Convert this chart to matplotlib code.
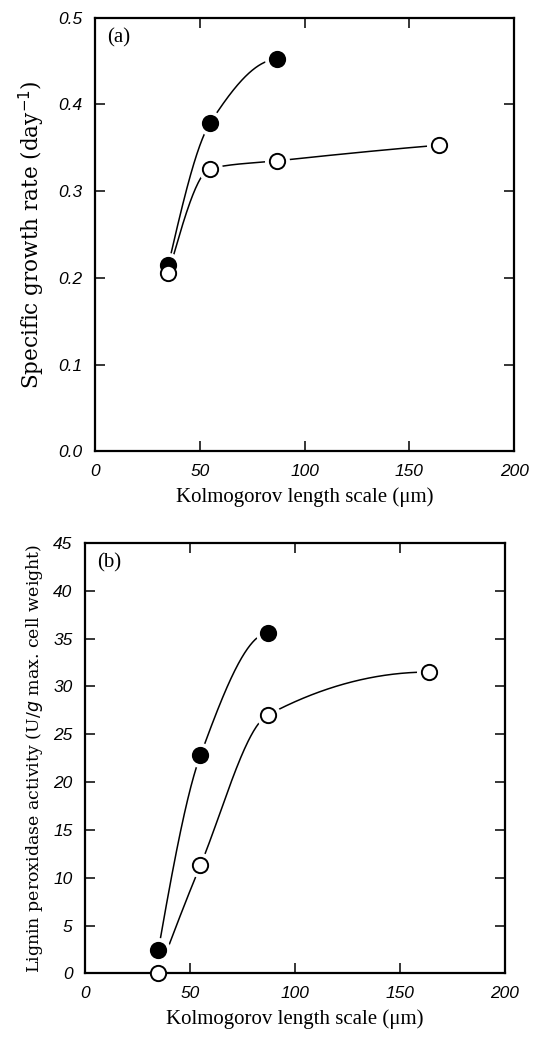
import numpy as np
import matplotlib
matplotlib.use('Agg')
import matplotlib.pyplot as plt

# Kolmogorov length scale (um)
x_filled = [35, 55, 87]
x_open = [35, 55, 87, 164]

# (a) specific growth rate (day^-1)
mu_filled = [0.215, 0.379, 0.452]
mu_open = [0.206, 0.326, 0.335, 0.353]

# (b) lignin peroxidase activity (U/g max. cell weight)
lip_filled = [2.5, 22.8, 35.6]
lip_open = [0.0, 11.3, 27.0, 31.5]

x_ticks = [0, 50, 100, 150, 200]
mu_ticks = [0.0, 0.1, 0.2, 0.3, 0.4, 0.5]
lip_ticks = [0, 5, 10, 15, 20, 25, 30, 35, 40, 45]

TICK_FONT = dict(family=['Liberation Sans', 'DejaVu Sans'], style='italic', size=12.5)
SERIF = ['Liberation Serif', 'DejaVu Serif']


def pchip(x, y, xs):
    # monotone cubic (Fritsch-Carlson) just for the smooth guide line
    x = np.asarray(x, float)
    y = np.asarray(y, float)
    h = np.diff(x)
    d = np.diff(y) / h
    n = len(x)
    m = np.zeros(n)
    for k in range(1, n - 1):
        if d[k - 1] * d[k] > 0:
            w1 = 2 * h[k] + h[k - 1]
            w2 = h[k] + 2 * h[k - 1]
            m[k] = (w1 + w2) / (w1 / d[k - 1] + w2 / d[k])
    m[0] = ((2 * h[0] + h[1]) * d[0] - h[0] * d[1]) / (h[0] + h[1])
    if np.sign(m[0]) != np.sign(d[0]):
        m[0] = 0
    m[-1] = ((2 * h[-1] + h[-2]) * d[-1] - h[-1] * d[-2]) / (h[-1] + h[-2])
    if np.sign(m[-1]) != np.sign(d[-1]):
        m[-1] = 0
    out = np.empty_like(xs)
    for i, xv in enumerate(xs):
        k = min(np.searchsorted(x, xv) - 1, n - 2)
        k = max(k, 0)
        t = (xv - x[k]) / h[k]
        h00 = 2 * t**3 - 3 * t**2 + 1
        h10 = t**3 - 2 * t**2 + t
        h01 = -2 * t**3 + 3 * t**2
        h11 = t**3 - t**2
        out[i] = h00 * y[k] + h10 * h[k] * m[k] + h01 * y[k + 1] + h11 * h[k] * m[k + 1]
    return out


def draw_series(ax, x, y, filled):
    xs = np.linspace(x[0], x[-1], 300)
    ax.plot(xs, pchip(x, y, xs), color='black', lw=1.1, zorder=1)
    # white halo so the line stops short of each marker (kept under the spines)
    ax.plot(x, y, 'o', ms=17, color='white', mec='white', zorder=1.5)
    ax.plot(x, y, 'o', ms=11, mfc='black' if filled else 'white',
            mec='black', mew=1.4, zorder=4)


def style_axes(ax, yticks, ylim, fmt):
    ax.set_xlim(0, 200)
    ax.set_ylim(*ylim)
    ax.set_xticks(x_ticks)
    ax.set_yticks(yticks)
    ax.set_xticklabels([str(v) for v in x_ticks], fontdict=TICK_FONT)
    ax.set_yticklabels([fmt(v) for v in yticks], fontdict=TICK_FONT)
    ax.tick_params(direction='in', length=7, width=1.1, top=True, right=True,
                   pad=9)
    for sp in ax.spines.values():
        sp.set_linewidth(1.6)


fig = plt.figure(figsize=(5.59, 10.4), dpi=100, facecolor='white')

ax1 = fig.add_axes([0.170, 0.566, 0.750, 0.417])
draw_series(ax1, x_filled, mu_filled, True)
draw_series(ax1, x_open, mu_open, False)
style_axes(ax1, mu_ticks, (0, 0.5), lambda v: f'{v:.1f}')
ax1.set_xlabel('Kolmogorov length scale (\u03bcm)', family=SERIF, size=15, labelpad=6)
ax1.set_ylabel('Specific growth rate (day$^{-1}$)', family=['DejaVu Serif'], size=15.5,
               labelpad=8)
ax1.text(0.03, 0.975, '(a)', transform=ax1.transAxes, family=SERIF, size=15,
         ha='left', va='top')

ax2 = fig.add_axes([0.152, 0.064, 0.751, 0.414])
draw_series(ax2, x_filled, lip_filled, True)
draw_series(ax2, x_open, lip_open, False)
style_axes(ax2, lip_ticks, (0, 45), lambda v: f'{v:d}')
ax2.set_xlabel('Kolmogorov length scale (\u03bcm)', family=SERIF, size=15, labelpad=6)
ax2.set_ylabel('Lignin peroxidase activity (U/$g$ max. cell weight)',
               family=['DejaVu Serif'], size=12.5, labelpad=6)
ax2.text(0.03, 0.975, '(b)', transform=ax2.transAxes, family=SERIF, size=15,
         ha='left', va='top')

for ax in (ax1, ax2):
    for ln in ax.lines:
        ln.set_clip_on(False)

fig.savefig('out.png', dpi=100)
plt.close(fig)
